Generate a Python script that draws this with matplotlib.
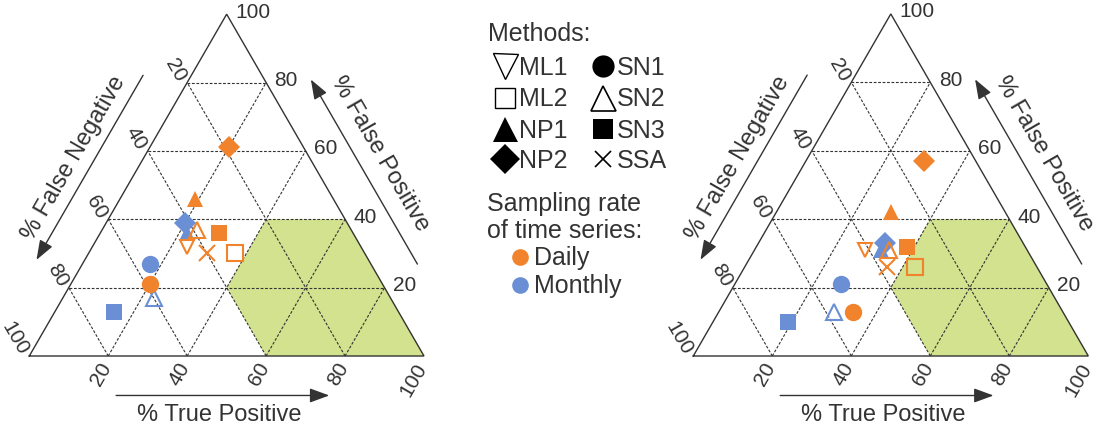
import matplotlib.pyplot as plt
import numpy as np

plt.rcParams['font.family'] = ['Liberation Sans', 'DejaVu Sans']

# values are (% True Positive, % False Positive); False Negative = 100 - TP - FP
left_daily_methods = ["ML1", "ML2", "NP1", "NP2", "SN1", "SN2", "SN3", "SSA"]
left_daily_tp = [24, 37, 19, 20, 20, 24, 30, 30]
left_daily_fp = [32, 30, 46, 61, 21, 37, 36, 30]
left_monthly_methods = ["NP1", "NP2", "SN1", "SN2", "SN3"]
left_monthly_tp = [22, 20, 17, 23, 15]
left_monthly_fp = [36, 39, 27, 17, 13]

right_daily_methods = ["ML1", "ML2", "NP1", "NP2", "SN1", "SN2", "SN3", "SSA"]
right_daily_tp = [28, 43, 29, 30, 34, 34, 38, 36]
right_daily_fp = [31, 26, 42, 57, 13, 31, 32, 26]
right_monthly_methods = ["NP1", "NP2", "SN1", "SN2", "SN3"]
right_monthly_tp = [32, 32, 27, 29, 19]
right_monthly_fp = [31, 33, 21, 13, 10]

ticks = [20, 40, 60, 80, 100]
grid_levels = [20, 40, 60, 80]
# target zone: TP >= 40, FP <= 40, FN <= 40
zone_tp = [60, 100, 60, 40, 40]
zone_fp = [0, 0, 40, 40, 20]

legend_col1 = ["ML1", "ML2", "NP1", "NP2"]
legend_col2 = ["SN1", "SN2", "SN3", "SSA"]

ORANGE = '#f0832b'
BLUE = '#6b8fd5'
GREEN = '#d2e28e'
INK = '#333333'

# marker, filled, size in plot, size in legend
styles = {
    "ML1": ("v", False, 10, 18),
    "ML2": ("s", False, 11, 14),
    "NP1": ("^", True, 12, 18),
    "NP2": ("D", True, 11, 15),
    "SN1": ("o", True, 12.5, 16),
    "SN2": ("^", False, 12, 18),
    "SN3": ("s", True, 11, 15),
    "SSA": ("x", True, 11, 12),
}

W, H = 1096, 432
fig = plt.figure(figsize=(W / 100, H / 100), dpi=100)


def tern_xy(tp, fp):
    tp = np.asarray(tp, float) / 100
    fp = np.asarray(fp, float) / 100
    return tp + fp / 2, fp * np.sqrt(3) / 2


def tern_axes(x0, base, side):
    xlim = (-0.08, 1.08)
    ylim = (-0.20, 0.92)
    ax = fig.add_axes([(x0 + xlim[0] * side) / W,
                       (H - base + ylim[0] * side) / H,
                       (xlim[1] - xlim[0]) * side / W,
                       (ylim[1] - ylim[0]) * side / H])
    ax.set_xlim(xlim)
    ax.set_ylim(ylim)
    ax.axis('off')
    return ax


def plot_method(ax, m, x, y, color, size_idx=2, lw=1.5, **kw):
    marker, filled, ms_plot, ms_leg = styles[m]
    ms = ms_plot if size_idx == 2 else ms_leg
    if marker == 'x':
        ax.plot(x, y, marker='x', ls='none', color=color, ms=ms, mew=lw, clip_on=False, **kw)
    elif filled:
        ax.plot(x, y, marker=marker, ls='none', color=color, ms=ms, mew=0, clip_on=False, **kw)
    else:
        ax.plot(x, y, marker=marker, ls='none', mfc='none', mec=color, ms=ms, mew=lw,
                clip_on=False, **kw)


def side_arrow(ax, a, b, n, t0, t1, d, text, t_text, d_text, rot):
    a, b, n = np.array(a), np.array(b), np.array(n)
    p0 = a + t0 * (b - a) + d * n
    p1 = a + t1 * (b - a) + d * n
    ax.annotate('', xy=p1, xytext=p0,
                arrowprops=dict(arrowstyle='-|>,head_length=0.6,head_width=0.22',
                                color=INK, lw=1.0, mutation_scale=20,
                                shrinkA=0, shrinkB=0))
    pt = a + t_text * (b - a) + d_text * n
    ax.text(pt[0], pt[1], text, fontsize=17, color=INK, rotation=rot,
            ha='center', va='center', rotation_mode='anchor')


def draw_panel(ax, d_m, d_tp, d_fp, m_m, m_tp, m_fp):
    zx, zy = tern_xy(zone_tp, zone_fp)
    ax.fill(zx, zy, color=GREEN, lw=0, zorder=1)

    grid_kw = dict(color=INK, lw=0.8, ls=(0, (2.5, 1.5)), zorder=2)
    for v in grid_levels:
        gx, gy = tern_xy([0, 100 - v], [v, v])
        ax.plot(gx, gy, **grid_kw)
        gx, gy = tern_xy([v, v], [0, 100 - v])
        ax.plot(gx, gy, **grid_kw)
        gx, gy = tern_xy([100 - v, 0], [0, 100 - v])
        ax.plot(gx, gy, **grid_kw)

    ox, oy = tern_xy([0, 100, 0, 0], [0, 0, 100, 0])
    ax.plot(ox, oy, color=INK, lw=1.0, zorder=3, solid_joinstyle='miter')

    for v in ticks:
        bx, by = tern_xy(v, 0)
        ax.annotate(str(v), (bx, by), xytext=(-1, -6), textcoords='offset points',
                    rotation=60, ha='right', va='center', rotation_mode='anchor',
                    fontsize=15, color=INK)
        lx, ly = tern_xy(0, 100 - v)
        ax.annotate(str(v), (lx, ly), xytext=(-4, 1.5), textcoords='offset points',
                    rotation=-60, ha='right', va='center', rotation_mode='anchor',
                    fontsize=15, color=INK)
        rx, ry = tern_xy(100 - v, v)
        ax.annotate(str(v), (rx, ry), xytext=(6, 1.5), textcoords='offset points',
                    ha='left', va='center', fontsize=15, color=INK)

    s3 = np.sqrt(3) / 2
    side_arrow(ax, (0, 0), (1, 0), (0, -1), 0.22, 0.76, 0.10,
               '% True Positive', 0.48, 0.15, 0)
    side_arrow(ax, (0, 0), (0.5, s3), (-s3, 0.5), 0.76, 0.22, 0.106,
               '% False Negative', 0.49, 0.153, 60)
    side_arrow(ax, (1, 0), (0.5, s3), (s3, 0.5), 0.21, 0.75, 0.102,
               '% False Positive', 0.50, 0.16, -60)

    for m, tp, fp in zip(m_m, m_tp, m_fp):
        x, y = tern_xy(tp, fp)
        plot_method(ax, m, x, y, BLUE, zorder=4)
    for m, tp, fp in zip(d_m, d_tp, d_fp):
        x, y = tern_xy(tp, fp)
        plot_method(ax, m, x, y, ORANGE, zorder=5)


ax1 = tern_axes(29.3, 356, 394.7)
draw_panel(ax1, left_daily_methods, left_daily_tp, left_daily_fp,
           left_monthly_methods, left_monthly_tp, left_monthly_fp)
ax2 = tern_axes(693.3, 356, 395)
draw_panel(ax2, right_daily_methods, right_daily_tp, right_daily_fp,
           right_monthly_methods, right_monthly_tp, right_monthly_fp)

# legend in the middle, pixel coordinates
lax = fig.add_axes([0, 0, 1, 1])
lax.set_xlim(0, W)
lax.set_ylim(H, 0)
lax.axis('off')

txt_kw = dict(fontsize=18, color=INK, va='baseline', ha='left')
lax.text(488, 40.7, 'Methods:', **txt_kw)
row_base = [75, 106.5, 137.5, 167.5]
for i, (m1, m2) in enumerate(zip(legend_col1, legend_col2)):
    yb = row_base[i]
    plot_method(lax, m1, 505, yb - 9, 'black', size_idx=3, lw=1.0)
    lax.text(519, yb, m1, **txt_kw)
    plot_method(lax, m2, 603, yb - 9, 'black', size_idx=3, lw=1.2)
    lax.text(617, yb, m2, **txt_kw)

lax.text(487, 211.5, 'Sampling rate', **txt_kw)
lax.text(487, 238.5, 'of time series:', **txt_kw)
lax.plot(520, 256.5, 'o', color=ORANGE, ms=12, mew=0)
lax.text(534, 265, 'Daily', **txt_kw)
lax.plot(520, 285, 'o', color=BLUE, ms=12, mew=0)
lax.text(534, 293.5, 'Monthly', **txt_kw)

fig.savefig('out.png', dpi=100)
